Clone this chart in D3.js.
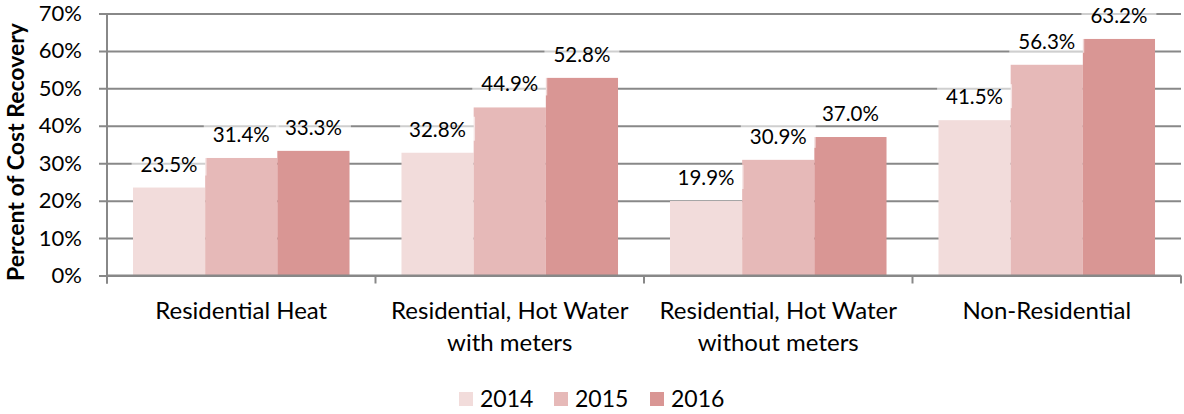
<!DOCTYPE html>
<html><head><meta charset="utf-8">
<script src="https://cdn.jsdelivr.net/npm/d3@7"></script>
<style>body{margin:0;background:#fff}svg{display:block}text{font-family:Lato,"Open Sans",sans-serif;fill:#000}</style>
</head><body><svg id="c" width="1184" height="414"></svg>
<script>
const categories = [["Residential Heat"],["Residential, Hot Water","with meters"],["Residential, Hot Water","without meters"],["Non-Residential"]];
const seriesNames = ["2014","2015","2016"];
const v2014 = [23.5, 32.8, 19.9, 41.5];
const v2015 = [31.4, 44.9, 30.9, 56.3];
const v2016 = [33.3, 52.8, 37.0, 63.2];
const yTicks = [0,10,20,30,40,50,60,70];
const colors = ["#f2dcdb","#e6b9b8","#d99694"];

const values = [v2014, v2015, v2016];
const svg = d3.select("#c");
const L = 107, R = 1181, T = 13.5, B = 275.5;
const x = d3.scaleBand().domain(d3.range(categories.length)).range([L, R]).paddingInner(0).paddingOuter(0);
const xs = d3.scaleBand().domain(d3.range(3)).range([0, x.bandwidth()]).paddingInner(0).paddingOuter(0.36);
const y = d3.scaleLinear().domain([0, 70]).range([B, T]);

// gridlines
const gy = svg.append("g").attr("transform", `translate(${L},0)`)
  .call(d3.axisLeft(y).tickValues(yTicks).tickSize(-(R - L)).tickSizeOuter(0).tickFormat(d => d + "%"));
gy.select(".domain").remove();
gy.selectAll(".tick line").attr("stroke", "#888").attr("stroke-width", 2).attr("x1", -8);
gy.selectAll(".tick text").attr("x", -25).attr("font-size", 22).attr("font-family", "Lato").attr("fill", "#000");

// bars
const groups = svg.append("g");
seriesNames.forEach((s, si) => {
  groups.selectAll(null).data(values[si]).enter().append("rect")
    .attr("x", (d, i) => x(i) + xs(si))
    .attr("width", xs.bandwidth())
    .attr("y", d => y(d))
    .attr("height", d => y(0) - y(d))
    .attr("fill", colors[si]);
});

// axes lines
svg.append("line").attr("x1", L).attr("x2", L).attr("y1", T).attr("y2", B + 8).attr("stroke", "#888").attr("stroke-width", 2);
const bounds = d3.range(categories.length + 1).map(i => L + i * x.bandwidth());
svg.selectAll(null).data(bounds).enter().append("line")
  .attr("x1", d => d).attr("x2", d => d).attr("y1", B).attr("y2", B + 8)
  .attr("stroke", "#888").attr("stroke-width", 2);
svg.append("line").attr("x1", L).attr("x2", R).attr("y1", B).attr("y2", B).attr("stroke", "#888").attr("stroke-width", 2);

// category labels
categories.forEach((lines, i) => {
  const t = svg.append("text").attr("text-anchor", "middle").attr("font-size", 24)
    .attr("x", x(i) + x.bandwidth() / 2).attr("y", 319);
  lines.forEach((ln, k) => t.append("tspan").attr("x", x(i) + x.bandwidth() / 2).attr("dy", k ? 32 : 0).text(ln));
});

// data labels
const lab = svg.append("g");
seriesNames.forEach((s, si) => {
  values[si].forEach((d, i) => {
    const cx = x(i) + xs(si) + xs.bandwidth() / 2;
    const cy = y(d) - 24;
    const g = lab.append("g");
    const t = g.append("text").attr("text-anchor", "middle").attr("dominant-baseline", "central")
      .attr("x", cx).attr("y", cy).attr("font-size", 20.5).text(d.toFixed(1) + "%");
    const w = t.node().getComputedTextLength();
    g.insert("rect", "text").attr("x", cx - w / 2 - 9).attr("width", w + 18)
      .attr("y", cy - 12).attr("height", 24).attr("fill", "#fff").attr("fill-opacity", 0.6);
  });
});

// y title
svg.append("text").attr("transform", "translate(24,152) rotate(-90)").attr("text-anchor", "middle")
  .attr("font-size", 23).attr("font-weight", "bold").text("Percent of Cost Recovery");

// legend
const leg = svg.append("g");
const legX = [459, 554, 650];
seriesNames.forEach((s, si) => {
  leg.append("rect").attr("x", legX[si]).attr("y", 392).attr("width", 14).attr("height", 14).attr("fill", colors[si]);
  leg.append("text").attr("x", legX[si] + 21).attr("y", 406.5).attr("font-size", 23).text(s);
});
</script></body></html>
